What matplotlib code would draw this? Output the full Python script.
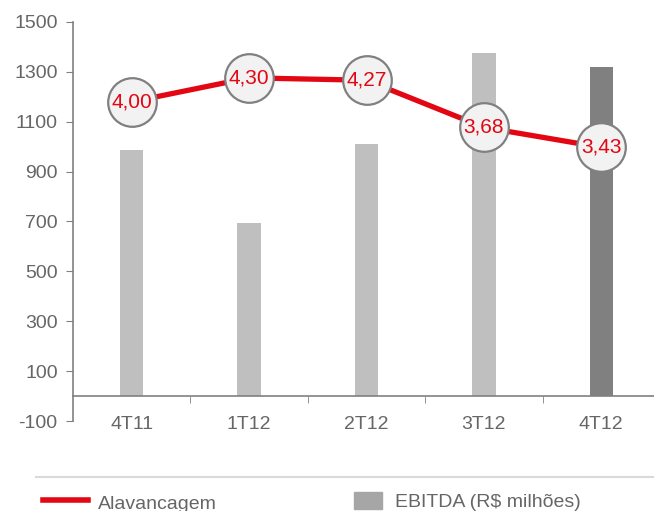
import matplotlib.pyplot as plt
from matplotlib.lines import Line2D
from matplotlib.patches import Rectangle

quarters = ['4T11', '1T12', '2T12', '3T12', '4T12']
ebitda = [986, 694, 1009, 1375, 1319]
alavancagem = [4.00, 4.30, 4.27, 3.68, 3.43]
bar_colors = ['#bfbfbf', '#bfbfbf', '#bfbfbf', '#bfbfbf', '#808080']
yticks = [-100, 100, 300, 500, 700, 900, 1100, 1300, 1500]

plt.rcParams['font.family'] = ['Liberation Sans', 'DejaVu Sans']
gray = '#808080'
txt = '#666666'

fig = plt.figure(figsize=(6.54, 5.11), dpi=100)
ax = fig.add_axes([73/654, 1 - 421/511, (660 - 73)/654, (421 - 22)/511])
ax2 = ax.twinx()

x = list(range(len(quarters)))
ax.bar(x, ebitda, width=0.2, color=bar_colors, zorder=2)
ax.set_xlim(-0.5, 4.5)
ax.set_ylim(-100, 1500)
ax.set_yticks(yticks)
ax.set_yticklabels([str(v) for v in yticks])
ax.set_xticks(x)
ax.set_xticklabels(quarters)
ax.set_xticks([0.5, 1.5, 2.5, 3.5], minor=True)
ax.tick_params(axis='x', which='major', length=0, pad=14, labelsize=14, labelcolor=txt)
ax.tick_params(axis='x', which='minor', length=5, color=gray, direction='out')
ax.tick_params(axis='y', length=5, color=gray, pad=6, labelsize=14, labelcolor=txt)
for s in ['top', 'right']:
    ax.spines[s].set_visible(False)
ax.spines['bottom'].set_position(('data', 0))
ax.spines['bottom'].set_color(gray)
ax.spines['left'].set_color(gray)
ax.spines['bottom'].set_linewidth(1.2)
ax.spines['left'].set_linewidth(1.2)

ax2.set_ylim(0, 5)
ax2.axis('off')
ax2.plot(x, alavancagem, color='#e30613', lw=3.8, zorder=3)
ax2.plot(x, alavancagem, 'o', ms=35, mfc='#f2f2f2', mec=gray, mew=1.6, zorder=4)
for xi, v in zip(x, alavancagem):
    ax2.text(xi, v, f'{v:.2f}'.replace('.', ','), ha='center', va='center',
             color='#e30613', fontsize=15, zorder=5)

# legend
fig.add_artist(Line2D([36/654, 1], [1 - 477/511] * 2, color='#d9d9d9', lw=1.5))
fig.add_artist(Line2D([43/654, 88/654], [1 - 500/511] * 2, color='#e30613', lw=4))
fig.text(98/654, 1 - 496/511, 'Alavancagem', fontsize=14, color=txt, va='top')
fig.add_artist(Rectangle((354/654, 1 - 509/511), 28/654, 17/511,
                         color='#a6a6a6', transform=fig.transFigure))
fig.text(395/654, 1 - 494/511, 'EBITDA (R$ milhões)', fontsize=14, color=txt, va='top')

fig.savefig('out.png', dpi=100)
